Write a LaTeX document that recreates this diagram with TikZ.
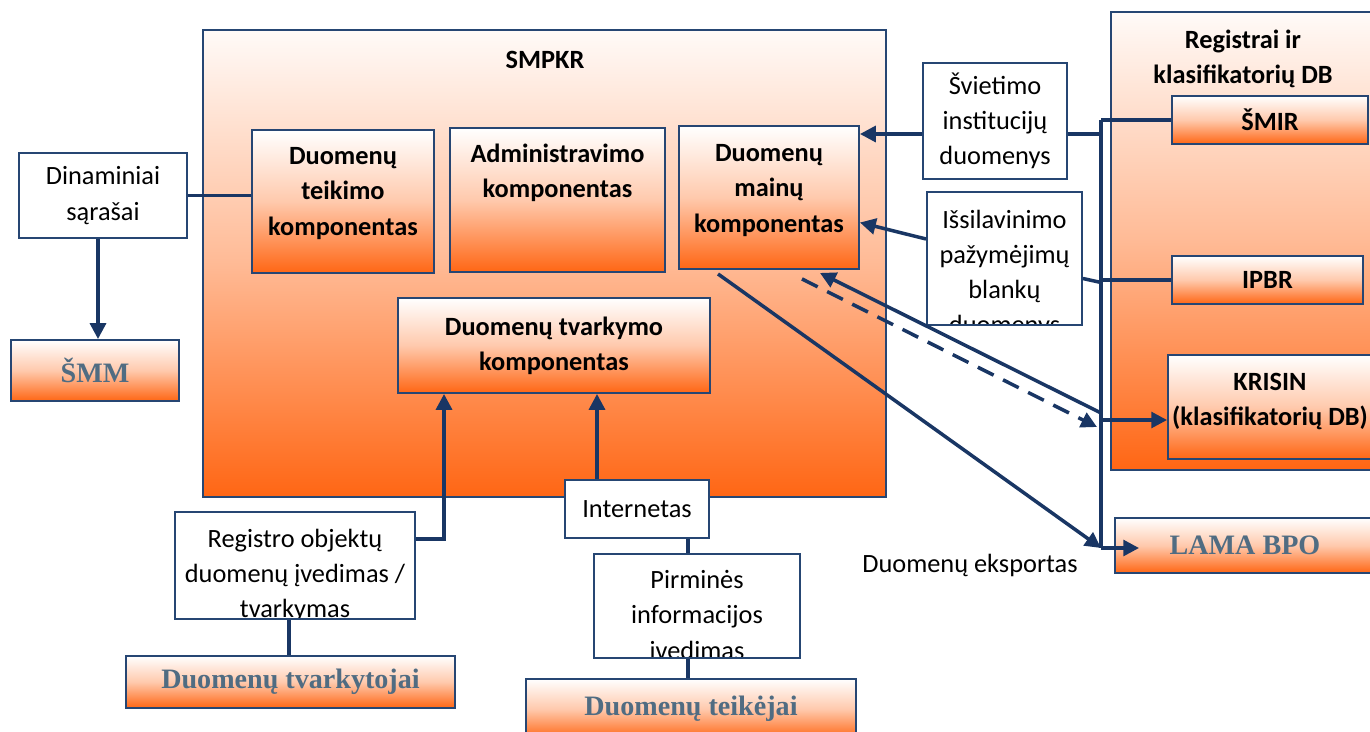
\documentclass[tikz,border=0pt]{standalone}
\usepackage{fontspec}
\setmainfont{Carlito}
\newfontfamily\tnr{Liberation Serif}
\usetikzlibrary{arrows.meta}

\definecolor{navy}{RGB}{25,54,100}
\definecolor{boxline}{RGB}{38,70,115}
\definecolor{orng}{RGB}{255,102,20}
\definecolor{slate}{RGB}{80,108,130}

\tikzset{
  wbox/.style={draw=boxline, line width=1.1pt, fill=white, align=center, inner sep=2pt, font=\fontsize{15}{20}\selectfont},
  gbox/.style={draw=boxline, line width=1.1pt, top color=white, bottom color=orng, middle color=orng!35, align=center, inner sep=2pt, font=\fontsize{15}{20}\selectfont\bfseries},
  sbox/.style={gbox, font=\fontsize{16}{19}\selectfont\tnr\bfseries, text=slate},
  lbl/.style={align=center, inner sep=2pt, font=\fontsize{15}{20}\selectfont\bfseries},
  link/.style={draw=navy, line width=2pt},
  arr/.style={link, -{Triangle[length=9pt,width=9pt]}},
}

\begin{document}
\begin{tikzpicture}[x=0.02cm, y=-0.02cm]
        \useasboundingbox (0,0) rectangle (1370,731);

        % big frames
        \node[gbox, top color=orng!3, bottom color=orng, middle color=orng!45, minimum width=13.66cm, minimum height=9.34cm] (smpkr) at (544.5,263.5) {};
        \node[lbl] (smpkrT) at (545,60) {SMPKR};
        \node[gbox, top color=orng!3, bottom color=orng, middle color=orng!45, minimum width=5.38cm, minimum height=9.16cm] (regdb) at (1245.5,241) {};
        \node[lbl] (regdbT) at (1243,59) {Registrai ir\\klasifikatorių DB};

        % SMPKR components
        \node[gbox, minimum width=3.64cm, minimum height=2.86cm,
              label={[name=teikT, lbl, yshift=0.16cm]center:Duomenų\\teikimo\\komponentas}] (teik) at (343,201.5) {};
        \node[gbox, minimum width=4.3cm, minimum height=2.88cm,
              label={[name=adminT, lbl, yshift=0.54cm]center:Administravimo\\komponentas}] (admin) at (557.5,200) {};
        \node[gbox, minimum width=3.6cm, minimum height=2.86cm,
              label={[name=mainuT, lbl, yshift=0.14cm]center:Duomenų\\mainų\\komponentas}] (mainu) at (769,197.5) {};
        \node[gbox, minimum width=6.24cm, minimum height=1.9cm] (tvark) at (554,345.5) {Duomenų tvarkymo\\komponentas};

        % left side
        \node[wbox, minimum width=3.36cm, minimum height=1.7cm] (dinam) at (103,195.5) {Dinaminiai\\sąrašai};
        \node[sbox, minimum width=3.36cm, minimum height=1.22cm] (smm) at (95,370.5) {ŠMM};

        % bottom
        \node[wbox, minimum width=4.8cm, minimum height=2.14cm, path picture={
            \node[draw=none, fill=none, align=center, font=\fontsize{15}{20}\selectfont] (registT) at ([yshift=-0.2cm]path picture bounding box.center) {Registro objektų\\duomenų įvedimas /\\tvarkymas};}] (regist) at (295,565.5) {};
        \node[sbox, minimum width=6.58cm, minimum height=1.04cm] (tvarkyt) at (290.5,682) {Duomenų tvarkytojai};
        \node[wbox, minimum width=2.88cm, minimum height=1.16cm] (internet) at (637,509) {Internetas};
        \node[wbox, minimum width=4.12cm, minimum height=2.08cm, path picture={
            \node[draw=none, fill=none, align=center, font=\fontsize{15}{20}\selectfont] (pirmT) at ([yshift=-0.22cm]path picture bounding box.center) {Pirminės\\informacijos\\įvedimas};}] (pirm) at (697,606) {};
        \node[sbox, minimum width=6.6cm, minimum height=1.2cm] (teikej) at (691,709) {Duomenų teikėjai};

        % right side
        \node[wbox, minimum width=2.88cm, minimum height=2.32cm] (sviet) at (995,121) {Švietimo\\institucijų\\duomenys};
        \node[wbox, minimum width=3.1cm, minimum height=2.66cm, path picture={
            \node[draw=none, fill=none, align=center, font=\fontsize{15}{20}\selectfont] (issilT) at ([yshift=-0.31cm]path picture bounding box.center) {Išsilavinimo\\pažymėjimų\\blankų\\duomenys};}] (issil) at (1004.5,258.5) {};
        \node[gbox, minimum width=3.92cm, minimum height=0.96cm] (smir) at (1270,120) {ŠMIR};
        \node[gbox, minimum width=3.82cm, minimum height=0.96cm] (ipbr) at (1267.5,280) {IPBR};
        \node[gbox, minimum width=4.08cm, minimum height=2.08cm,
              label={[name=krisinT, lbl, yshift=0.11cm]center:KRISIN\\(klasifikatorių DB)}] (krisin) at (1270,407) {};
        \node[sbox, minimum width=5.2cm, minimum height=1.1cm] (lama) at (1245,545.5) {LAMA BPO};
        \node[font=\fontsize{15}{20}\selectfont] (eksp) at (970,565) {Duomenų eksportas};

        % bus
        \coordinate (busT) at (1101,120);
        \coordinate (busK) at (1101,413);
        \coordinate (busD) at (1097,427);
        \coordinate (busB) at (1101,548);
        \draw[link] (busT) -- (busB);
        \draw[link] (busT) -- (smir.west);
        \draw[link] (ipbr.west -| busT) -- (ipbr.west);
        \draw[arr] ([yshift=-0.26cm]krisin.west -| busT) -- ([yshift=-0.26cm]krisin.west);
        \draw[arr] (busB) -- ([xshift=0.5cm]busB -| lama.west);
        \draw[link] ([yshift=-0.26cm]sviet.east) -- ([yshift=-0.26cm]sviet.east -| busT);
        \draw[link] ([yshift=-0.4cm]issil.east) -- ([yshift=-0.48cm]issil.east -| busT);

        % into / out of the exchange component
        \draw[arr] ([yshift=-0.26cm]sviet.west) -- ([yshift=-0.26cm]sviet.west -| mainu.east);
        \draw[arr] ([yshift=0.39cm]issil.west) -- ([yshift=-0.5cm]mainu.east);
        \draw[arr] (busK) -- ([xshift=1.02cm,yshift=-0.06cm]mainu.south);
        \draw[arr, dashed, dash pattern=on 10pt off 6pt] ([xshift=0.66cm,yshift=-0.18cm]mainu.south) -- (busD);
        \draw[arr] ([xshift=-1.02cm,yshift=-0.08cm]mainu.south) -- (busB);

        % left and bottom links
        \draw[link] (dinam.east) -- (dinam.east -| teik.west);
        \draw[arr] ([xshift=-0.1cm]dinam.south) -- ([xshift=-0.1cm]dinam.south |- smm.north);
        \draw[arr] ([yshift=0.53cm]regist.east) -| ([xshift=-2.2cm]tvark.south);
        \draw[link] ([xshift=-0.12cm]regist.south) -- ([xshift=-0.12cm]regist.south |- tvarkyt.north);
        \draw[arr] ([xshift=-0.8cm]internet.north) -- ([xshift=-0.8cm]internet.north |- tvark.south);
        \draw[link] ([xshift=1.02cm]internet.south) -- ([xshift=1.02cm]internet.south |- pirm.north);
        \draw[link] ([xshift=-0.18cm]pirm.south) -- ([xshift=-0.18cm]pirm.south |- teikej.north);
    \end{tikzpicture}
\end{document}
